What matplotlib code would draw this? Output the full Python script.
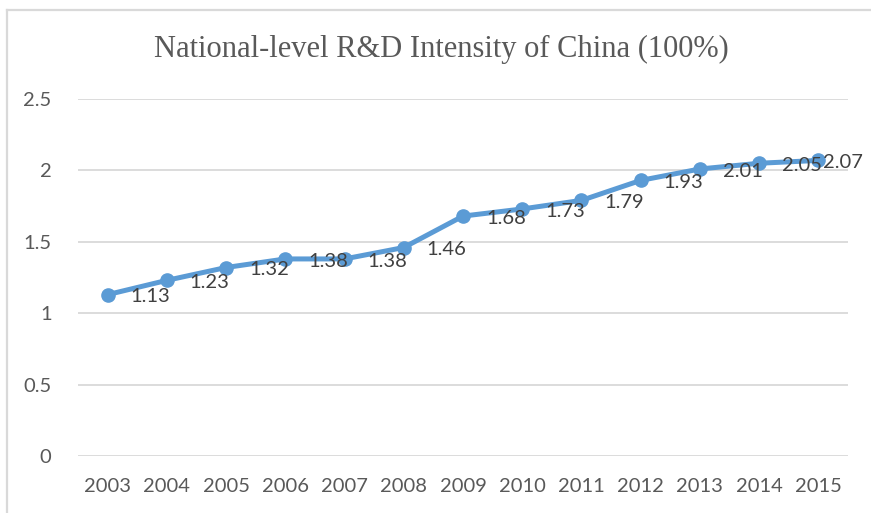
import matplotlib
matplotlib.use("Agg")
import matplotlib.pyplot as plt

# data
years = ['2003', '2004', '2005', '2006', '2007', '2008', '2009',
         '2010', '2011', '2012', '2013', '2014', '2015']
intensity = [1.13, 1.23, 1.32, 1.38, 1.38, 1.46, 1.68,
             1.73, 1.79, 1.93, 2.01, 2.05, 2.07]
y_ticks = [0, 0.5, 1, 1.5, 2, 2.5]
y_tick_labels = ['0', '0.5', '1', '1.5', '2', '2.5']

blue = '#5b9bd5'
grid_col = '#d9d9d9'
txt_col = '#595959'

fig = plt.figure(figsize=(8.71, 5.13), dpi=100)
ax = fig.add_axes([78/871, 1 - 456/513, (848 - 78)/871, (456 - 99)/513])

x = list(range(len(years)))
ax.plot(x, intensity, color=blue, lw=3.6, marker='o', ms=9.5,
        solid_capstyle='round', zorder=3)

# labels sit right of the points; the last one is pushed in to stay inside the chart
for i, (xi, v) in enumerate(zip(x, intensity)):
    dx = 3.5 if i == len(x) - 1 else 16.5
    ax.annotate(f'{v:.2f}', (xi, v), xytext=(dx, -1.5), textcoords='offset points',
                ha='left', va='center', fontsize=14.5, family='Lato',
                color='#404040', zorder=4, annotation_clip=False)

ax.set_xlim(-0.5, len(years) - 0.5)
ax.set_ylim(0, 2.5)
ax.set_xticks(x)
ax.set_xticklabels(years, fontsize=14.5, family='Lato', color=txt_col)
ax.set_yticks(y_ticks)
ax.set_yticklabels(y_tick_labels, fontsize=14.5, family='Lato', color=txt_col)
ax.tick_params(axis='both', length=0)
ax.tick_params(axis='y', pad=19)
ax.tick_params(axis='x', pad=16)
ax.grid(axis='y', color=grid_col, lw=1.3)
ax.set_axisbelow(True)
for s in ax.spines.values():
    s.set_visible(False)

fig.text(0.507, 0.903, 'National-level R&D Intensity of China (100%)',
         ha='center', va='center', fontsize=22, family='Liberation Serif',
         color=txt_col)

# chart frame (only top and left edges are visible in the crop)
fig.add_artist(plt.Line2D([7/871, 7/871], [0, 1 - 10/513], color=grid_col,
                          lw=1.6, transform=fig.transFigure))
fig.add_artist(plt.Line2D([7/871, 1], [1 - 10/513, 1 - 10/513], color=grid_col,
                          lw=1.6, transform=fig.transFigure))

fig.savefig('out.png', dpi=100)
